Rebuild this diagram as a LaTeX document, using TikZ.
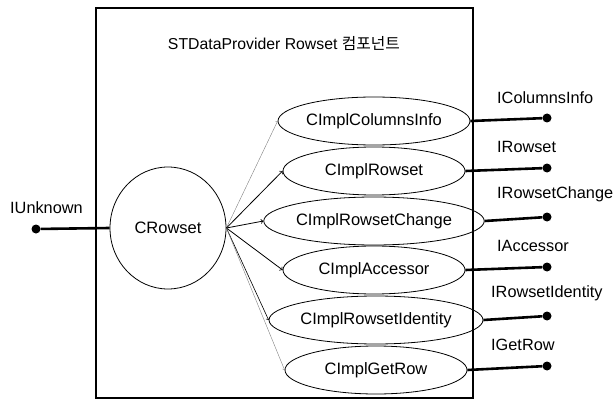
\documentclass[tikz,border=0pt]{standalone}
\usepackage{fontspec}
\setmainfont{Liberation Sans}
\newfontfamily\kor{Noto Sans CJK KR}
\usetikzlibrary{shapes.geometric}
\tikzset{
  impl/.style={draw,thick,ellipse,minimum width=182pt,minimum height=48pt,inner sep=0pt,font=\fontsize{16.5}{18}\selectfont},
  port/.style={circle,fill=black,inner sep=0pt,minimum size=9pt},
  plabel/.style={anchor=south west,inner sep=0pt,font=\fontsize{16.3}{18}\selectfont},
  wire/.style={line width=2.6pt},
  calls/.style={->,thick},
  weak/.style={->,thin,gray}
}
\begin{document}
\begin{tikzpicture}[x=1pt,y=-1pt]
	\useasboundingbox (0,0) rectangle (613,401);
	% Component box
	\draw [line width=1.2pt] (96,8) rectangle (473,398);
	\node (title) at (284,43) {\fontsize{15.8}{18}\selectfont STDataProvider Rowset {\kor 컴포넌트}};
	% Objects
	\node[draw,thick,ellipse,minimum width=116pt,minimum height=122pt,font=\fontsize{16.5}{18}\selectfont] (crowset) at (168,228) {CRowset};
	\node[impl] (cols) at (374,121) {CImplColumnsInfo};
	\node[impl] (rows) at (374,171) {CImplRowset};
	\node[impl] (chg) at (374,221) {CImplRowsetChange};
	\node[impl] (acc) at (374,270) {CImplAccessor};
	\node[impl] (ident) at (376,320) {CImplRowsetIdentity};
	\node[impl] (getrow) at (376,370) {CImplGetRow};
	%Calls
	\draw [weak] (crowset.east) -- (cols.west);
	\draw [calls] (crowset.east) -- (rows.west);
	\draw [calls] (crowset.east) -- (chg.west);
	\draw [calls] (crowset.east) -- (acc.west);
	\draw [calls,semithick] (crowset.east) -- (ident.west);
	\draw [weak] (crowset.east) -- (getrow.west);
	%Interfaces
	\node[port] (unk) at (36,229) {};
	\node[port] (p1) at (547,118) {};
	\node[port] (p2) at (547,168) {};
	\node[port] (p3) at (547,217) {};
	\node[port] (p4) at (547,267) {};
	\node[port] (p5) at (547,316) {};
	\node[port] (p6) at (547,366) {};
	\draw [wire] (unk) -- (crowset.west);
	\draw [wire] (cols.east) -- (p1);
	\draw [wire] (rows.east) -- (p2);
	\draw [wire] (chg.east) -- (p3);
	\draw [wire] (acc.east) -- (p4);
	\draw [wire] (ident.east) -- (p5);
	\draw [wire] (getrow.east) -- (p6);
	%Labels
	\node[plabel] (lunk) at (10,214) {IUnknown};
	\node[plabel] (l1) at (497,104) {IColumnsInfo};
	\node[plabel] (l2) at (497,153) {IRowset};
	\node[plabel] (l3) at (497,202) {IRowsetChange};
	\node[plabel] (l4) at (497,252) {IAccessor};
	\node[plabel] (l5) at (491,301) {IRowsetIdentity};
	\node[plabel] (l6) at (491,351) {IGetRow};
\end{tikzpicture}
\end{document}
